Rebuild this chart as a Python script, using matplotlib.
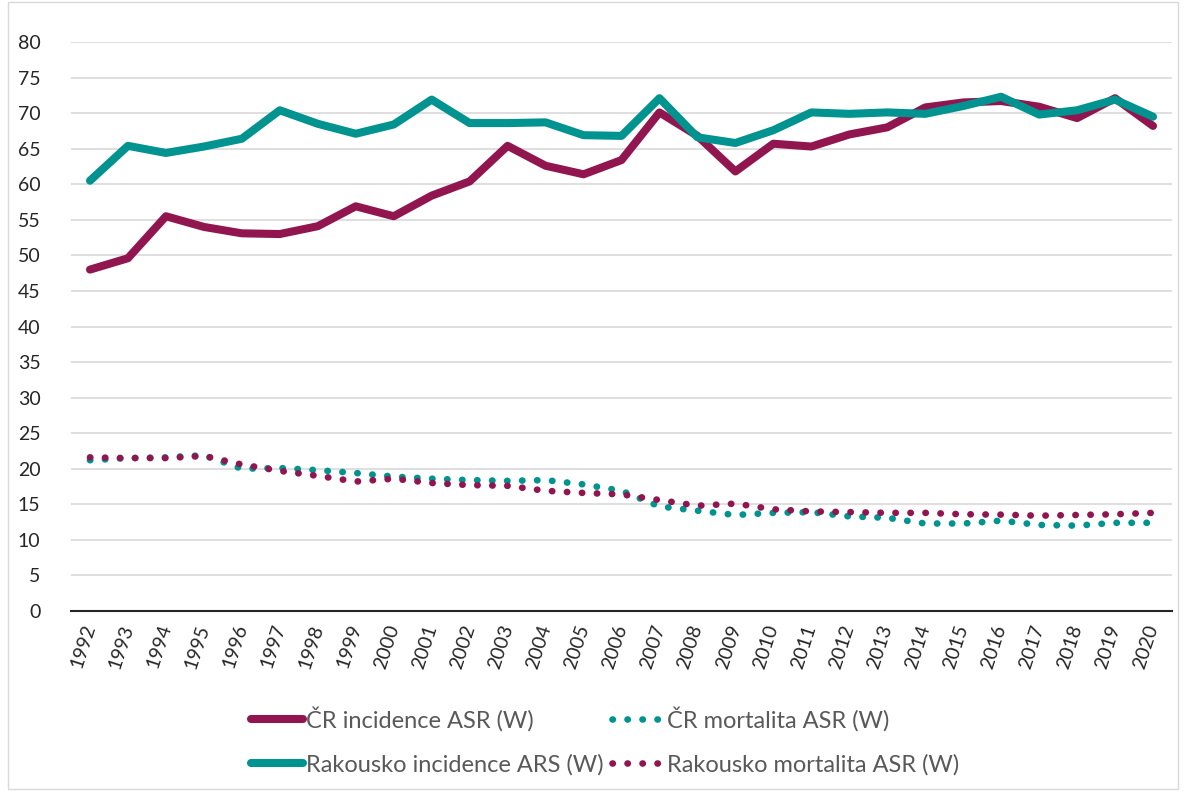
import numpy as np
import matplotlib.pyplot as plt
from matplotlib.patches import Rectangle

years = list(range(1992, 2021))

cr_incidence = [48.0, 49.6, 55.5, 54.0, 53.1, 53.0, 54.1, 56.9, 55.5, 58.4, 60.4, 65.4,
                62.6, 61.4, 63.4, 70.1, 66.8, 61.8, 65.7, 65.3, 67.0, 68.0, 70.8, 71.5,
                71.7, 70.9, 69.3, 72.1, 68.2]
at_incidence = [60.5, 65.4, 64.4, 65.3, 66.4, 70.4, 68.5, 67.1, 68.4, 71.9, 68.6, 68.6,
                68.7, 66.9, 66.8, 72.1, 66.6, 65.8, 67.6, 70.1, 69.9, 70.1, 69.9, 71.0,
                72.3, 69.8, 70.4, 71.9, 69.5]
cr_mortality = [21.2, 21.5, 21.6, 21.9, 20.0, 20.1, 19.8, 19.4, 18.9, 18.6, 18.4, 18.3,
                18.4, 17.8, 16.9, 14.7, 14.1, 13.5, 13.8, 13.9, 13.3, 13.1, 12.3, 12.3,
                12.7, 12.1, 12.0, 12.4, 12.4]
at_mortality = [21.6, 21.5, 21.5, 21.8, 20.6, 19.7, 19.0, 18.2, 18.6, 18.0, 17.7, 17.6,
                16.9, 16.6, 16.4, 15.6, 14.8, 15.1, 14.3, 14.0, 13.9, 13.8, 13.8, 13.6,
                13.55, 13.4, 13.5, 13.6, 13.8]

labels = ['ČR incidence ASR (W)', 'ČR mortalita ASR (W)',
          'Rakousko incidence ARS (W)', 'Rakousko mortalita ASR (W)']

magenta = '#911650'
teal = '#00938F'

plt.rcParams['font.family'] = ['Lato', 'DejaVu Sans']

fig = plt.figure(figsize=(11.86, 7.91), dpi=100)
ax = fig.add_axes([71 / 1186, 1 - 611 / 791, (1172 - 71) / 1186, (611 - 42) / 791])

x = np.arange(len(years))
dots = (0, (0.05, 2.2))
l1, = ax.plot(x, cr_incidence, color=magenta, lw=5.8, solid_capstyle='round', solid_joinstyle='round', zorder=3)
l3, = ax.plot(x, at_incidence, color=teal, lw=5.8, solid_capstyle='round', solid_joinstyle='round', zorder=4)
l2, = ax.plot(x, cr_mortality, color=teal, lw=4.8, linestyle=dots, dash_capstyle='round', zorder=3)
l4, = ax.plot(x, at_mortality, color=magenta, lw=4.8, linestyle=dots, dash_capstyle='round', zorder=4)

ax.set_xlim(-0.5, len(years) - 0.5)
ax.set_ylim(0, 80)
ax.set_yticks(np.arange(0, 81, 5))
ax.set_xticks(x)
ax.set_xticklabels([str(y) for y in years], rotation=72, ha='right', va='center',
                   rotation_mode='anchor', fontsize=14)
ax.tick_params(axis='x', length=0, pad=10, colors='#262626')
ax.tick_params(axis='y', length=0, pad=22, labelsize=14, colors='#262626')

ax.grid(axis='y', color='#d9d9d9', lw=1.2)
ax.set_axisbelow(True)
for s in ['top', 'right', 'left']:
    ax.spines[s].set_visible(False)
ax.spines['bottom'].set_color('#262626')
ax.spines['bottom'].set_linewidth(1.5)
ax.spines['bottom'].set_zorder(5)

leg = fig.legend([l1, l3, l2, l4], [labels[0], labels[2], labels[1], labels[3]],
                 ncol=2, loc='center', bbox_to_anchor=(605 / 1186, 1 - 741 / 791),
                 frameon=False, fontsize=17, handlelength=2.2, handletextpad=0.12,
                 columnspacing=0.35, labelspacing=0.95)
for t in leg.get_texts():
    t.set_color('#595959')

fig.patches.append(Rectangle((8 / 1186, 0.002), 1 - 16 / 1186, 0.996, transform=fig.transFigure,
                             fill=False, edgecolor='#d9d9d9', lw=1.0))

fig.savefig('out.png', dpi=100)
